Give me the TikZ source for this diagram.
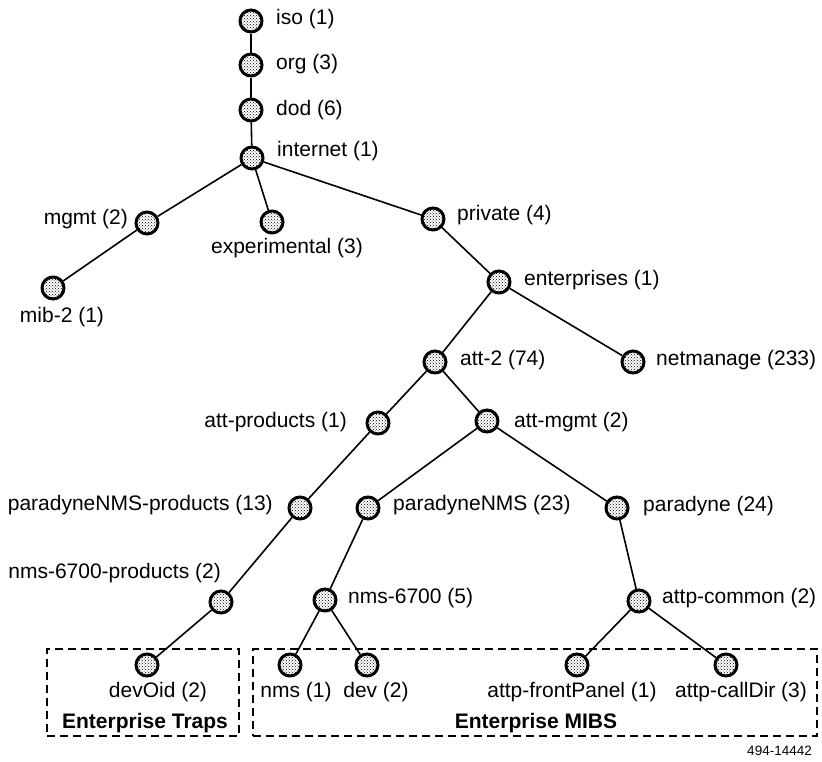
\documentclass[tikz,border=0pt]{standalone}
\usepackage{fontspec}
\setmainfont{Liberation Sans}
\usepackage{tikz}
\usetikzlibrary{patterns}

\begin{document}
\begin{tikzpicture}[x=1pt, y=-1pt,
  oid/.style={circle, draw, line width=3pt, minimum size=22pt, inner sep=0pt,
    preaction={fill=white}, pattern=crosshatch dots},
  lbl/.style={inner sep=0pt, font=\fontsize{21}{24}\selectfont},
  grp/.style={draw, line width=1.8pt, dash pattern=on 8pt off 5pt},
  grptitle/.style={inner sep=0pt, font=\fontsize{21}{24}\selectfont\bfseries},
  edge/.style={line width=1.6pt}]
\useasboundingbox (0,0) rectangle (822,761);
\node [grp, minimum width=192pt, minimum height=87pt] (traps) at (143,692.5) {};
\node [grp, minimum width=564pt, minimum height=87pt] (mibs) at (535,692.5) {};
\node [oid] (iso) at (251,21) {};
\node [oid] (org) at (251,65) {};
\node [oid] (dod) at (251,110) {};
\node [oid] (internet) at (252,158) {};
\node [oid] (mgmt) at (147,223) {};
\node [oid] (experimental) at (272,222) {};
\node [oid] (private) at (433,219) {};
\node [oid] (mib2) at (53,288) {};
\node [oid] (enterprises) at (499,282) {};
\node [oid] (att2) at (435,362) {};
\node [oid] (netmanage) at (633,362) {};
\node [oid] (attproducts) at (378,423) {};
\node [oid] (attmgmt) at (487,421) {};
\node [oid] (pnmsproducts) at (300,508) {};
\node [oid] (pnms) at (368,508) {};
\node [oid] (paradyne) at (617,508) {};
\node [oid] (nmsproducts) at (221,602) {};
\node [oid] (nms6700) at (325,600) {};
\node [oid] (attpcommon) at (639,601) {};
\node [oid] (devoid) at (147,665) {};
\node [oid] (nms) at (290,665) {};
\node [oid] (dev) at (367,665) {};
\node [oid] (frontpanel) at (577,665) {};
\node [oid] (calldir) at (726,665) {};
\draw [edge] (iso) -- (org);
\draw [edge] (org) -- (dod);
\draw [edge] (dod) -- (internet);
\draw [edge] (internet) -- (mgmt);
\draw [edge] (internet) -- (experimental);
\draw [edge] (internet) -- (private);
\draw [edge] (mgmt) -- (mib2);
\draw [edge] (private) -- (enterprises);
\draw [edge] (enterprises) -- (att2);
\draw [edge] (enterprises) -- (netmanage);
\draw [edge] (att2) -- (attproducts);
\draw [edge] (att2) -- (attmgmt);
\draw [edge] (attproducts) -- (pnmsproducts);
\draw [edge] (pnmsproducts) -- (nmsproducts);
\draw [edge] (nmsproducts) -- (devoid);
\draw [edge] (attmgmt) -- (pnms);
\draw [edge] (attmgmt) -- (paradyne);
\draw [edge] (pnms) -- (nms6700);
\draw [edge] (nms6700) -- (nms);
\draw [edge] (nms6700) -- (dev);
\draw [edge] (paradyne) -- (attpcommon);
\draw [edge] (attpcommon) -- (frontpanel);
\draw [edge] (attpcommon) -- (calldir);
\node [lbl, anchor=west] (iso-l) at (276,19) {iso (1)};
\node [lbl, anchor=west] (org-l) at (276,64) {org (3)};
\node [lbl, anchor=west] (dod-l) at (276,110) {dod (6)};
\node [lbl, anchor=west] (internet-l) at (277,151) {internet (1)};
\node [lbl, anchor=east] (mgmt-l) at (128,219) {mgmt (2)};
\node [lbl] (experimental-l) at (287,248) {experimental (3)};
\node [lbl, anchor=west] (private-l) at (457,215) {private (4)};
\node [lbl] (mib2-l) at (62,317) {mib-2 (1)};
\node [lbl, anchor=west] (enterprises-l) at (524,280) {enterprises (1)};
\node [lbl, anchor=west] (att2-l) at (460,360) {att-2 (74)};
\node [lbl, anchor=west] (netmanage-l) at (656,360) {netmanage (233)};
\node [lbl, anchor=east] (attproducts-l) at (347,422) {att-products (1)};
\node [lbl, anchor=west] (attmgmt-l) at (514,422) {att-mgmt (2)};
\node [lbl, anchor=east] (pnmsproducts-l) at (273,505) {paradyneNMS-products (13)};
\node [lbl, anchor=west] (pnms-l) at (393,505) {paradyneNMS (23)};
\node [lbl, anchor=west] (paradyne-l) at (643,506) {paradyne (24)};
\node [lbl, anchor=east] (nmsproducts-l) at (221,573) {nms-6700-products (2)};
\node [lbl, anchor=west] (nms6700-l) at (348,598) {nms-6700 (5)};
\node [lbl, anchor=west] (attpcommon-l) at (662,598) {attp-common (2)};
\node [lbl] (devoid-l) at (158,692) {devOid (2)};
\node [lbl] (nms-l) at (296,692) {nms (1)};
\node [lbl] (dev-l) at (376,692) {dev (2)};
\node [lbl] (frontpanel-l) at (572,692) {attp-frontPanel (1)};
\node [lbl] (calldir-l) at (741,692) {attp-callDir (3)};
\node [grptitle] (traps-t) at (145,723) {Enterprise Traps};
\node [grptitle] (mibs-t) at (536,723) {Enterprise MIBS};
\node [inner sep=0pt, anchor=east, font=\fontsize{13.5}{16}\selectfont] (figno) at (812,751) {494-14442};
\end{tikzpicture}
\end{document}
